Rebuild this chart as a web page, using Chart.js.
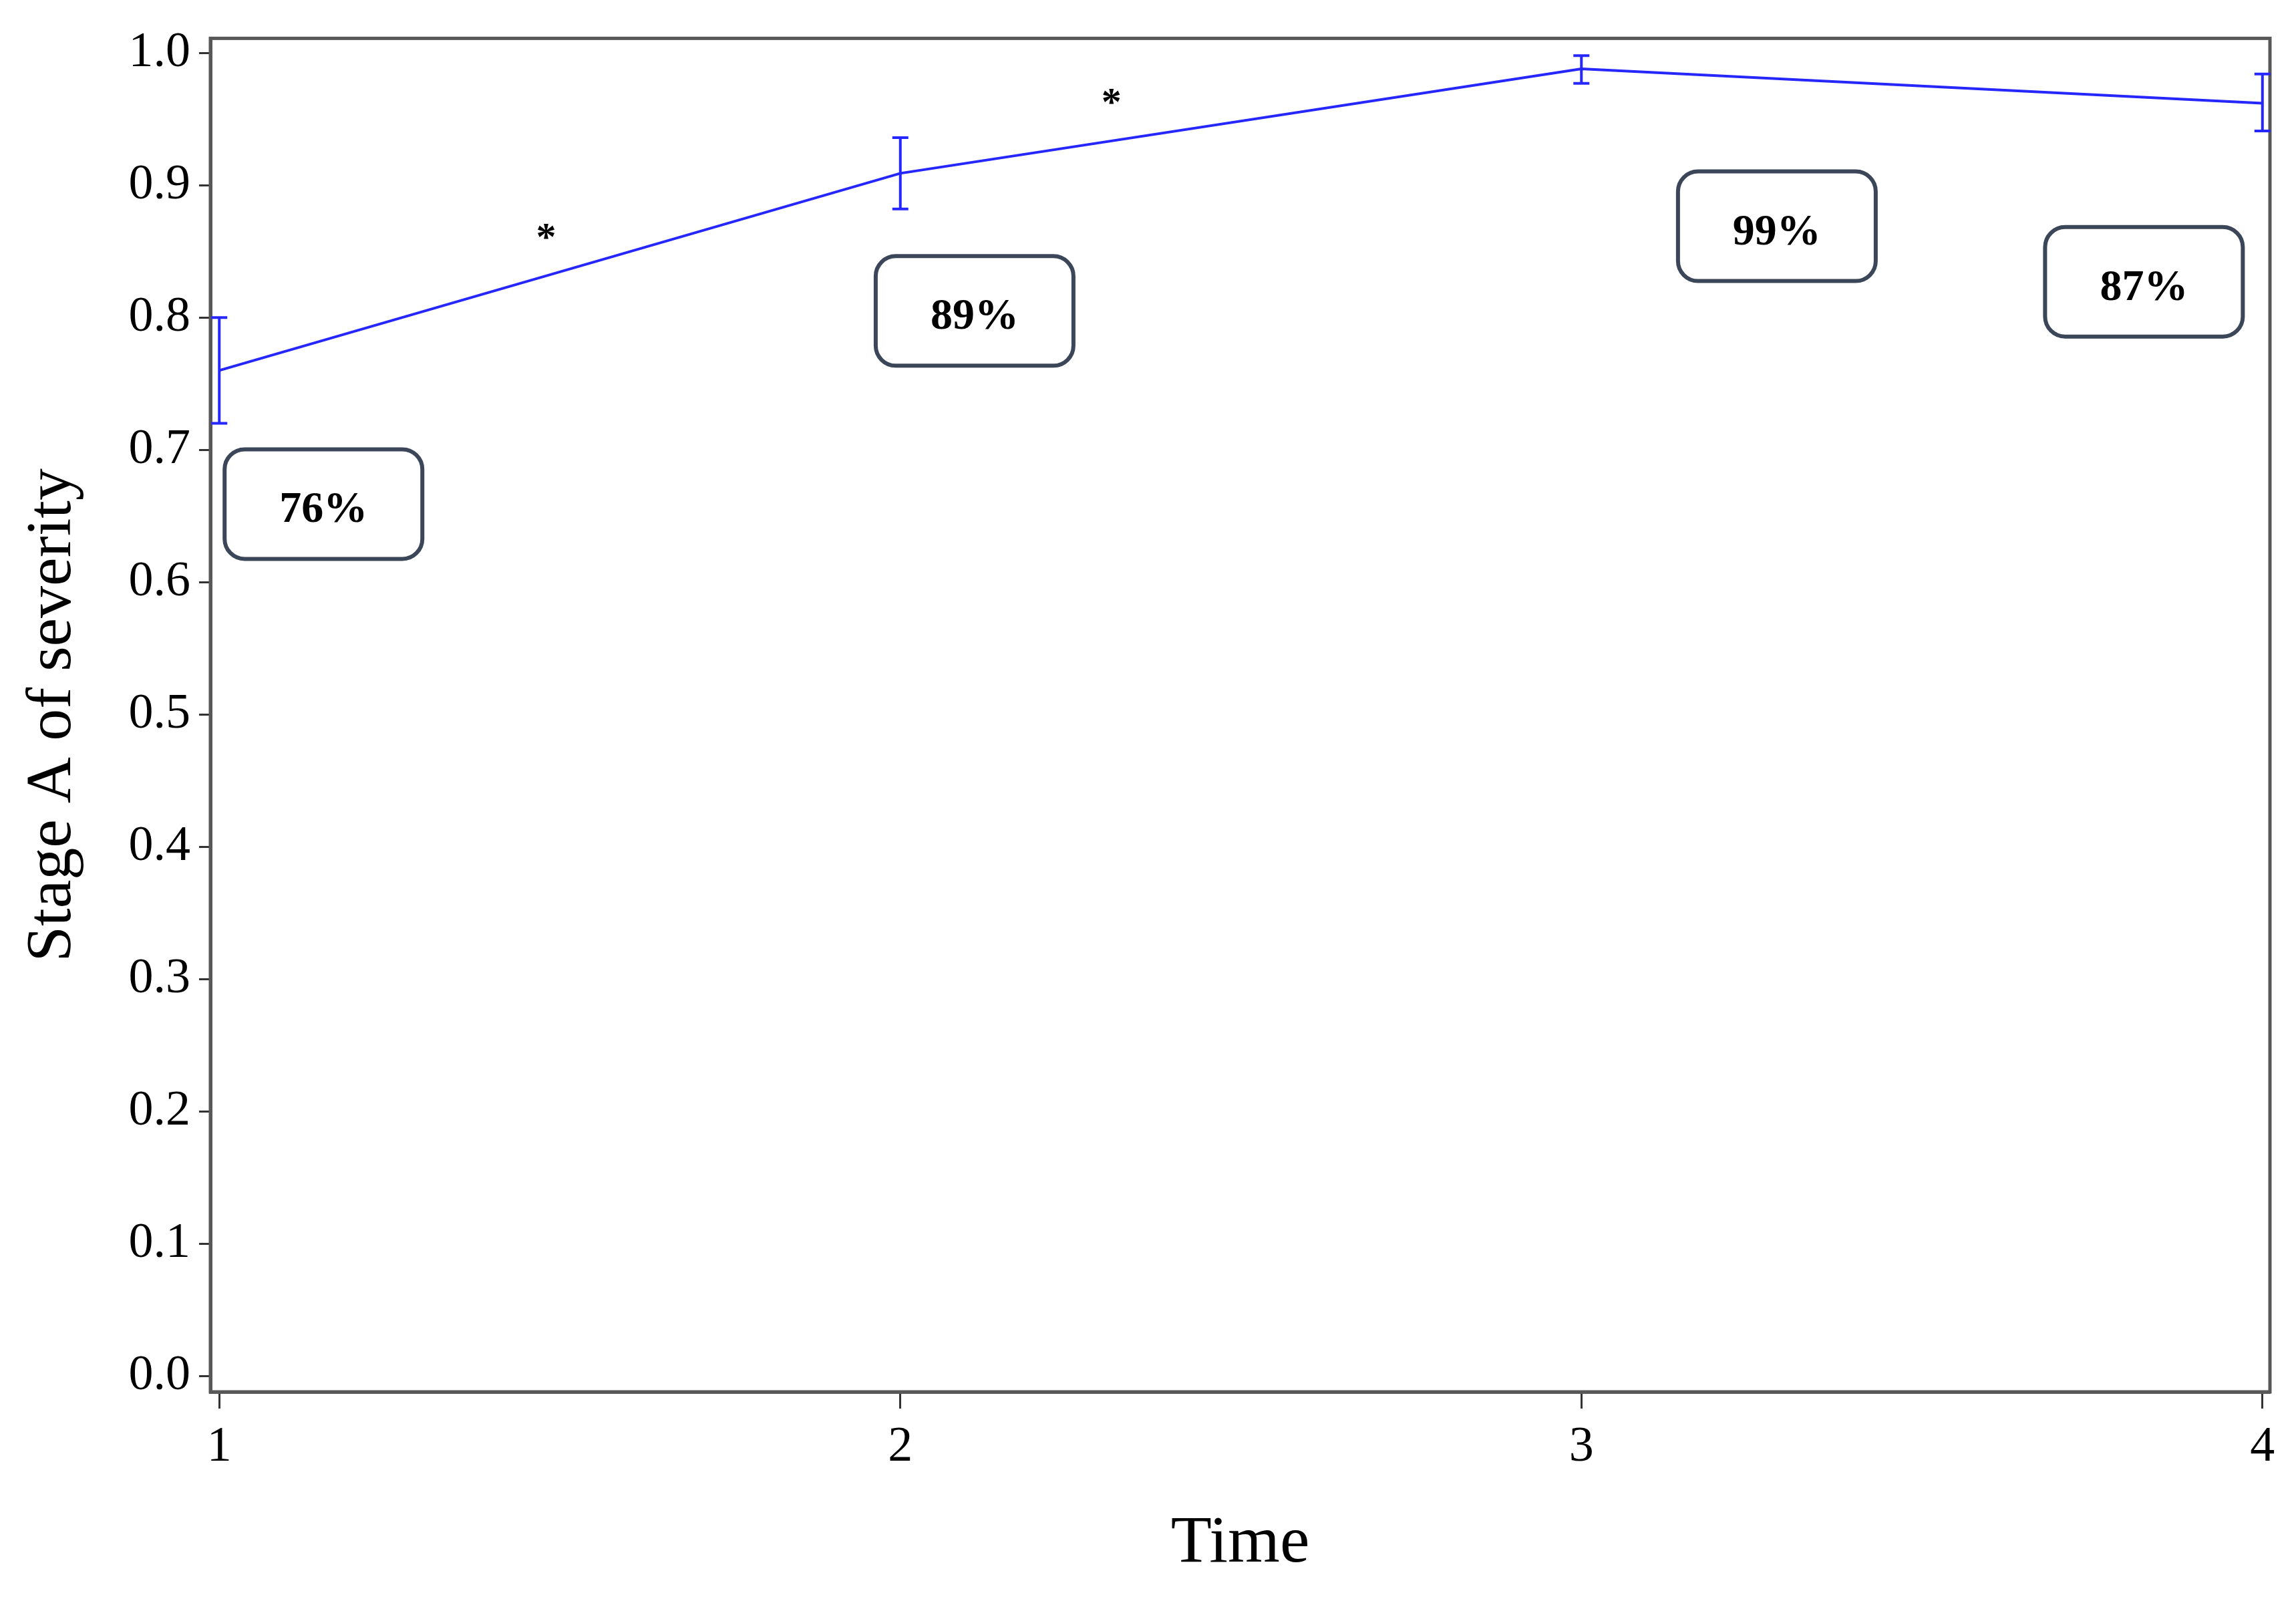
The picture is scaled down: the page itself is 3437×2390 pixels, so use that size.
<!DOCTYPE html>
<html>
<head>
<meta charset="utf-8">
<script src="https://cdn.jsdelivr.net/npm/chart.js@4/dist/chart.umd.min.js"></script>
<style>
  body { margin: 0; background: #fff; }
  canvas { display: block; }
</style>
</head>
<body>
<canvas id="chart" width="3437" height="2390"></canvas>
<script>
"use strict";

// данные графика
const times = [1, 2, 3, 4];
const means = [0.76, 0.909, 0.988, 0.962];
const lower = [0.72, 0.882, 0.977, 0.941];
const upper = [0.8, 0.936, 0.998, 0.984];

// подписи в рамках
const boxTexts = ["76%", "89%", "99%", "87%"];
const boxX = [1.153, 2.109, 3.287, 3.826];
const boxY = [0.659, 0.805, 0.869, 0.827];

// звездочки
const starX = [1.48, 2.31];
const starY = [0.865, 0.967];

const xTicks = [1, 2, 3, 4];
const yTicks = [0.0, 0.1, 0.2, 0.3, 0.4, 0.5, 0.6, 0.7, 0.8, 0.9, 1.0];

const serif = "'Liberation Serif', 'Times New Roman', serif";
const blue = "rgb(38, 38, 255)";
const axisColor = "#585858";

// рамка, усы и подписи
const extras = {
  id: "extras",
  afterDatasetsDraw(chart) {
    const { ctx, chartArea, scales } = chart;
    const x = scales.x;
    const y = scales.y;
    ctx.save();

    // рамка вокруг области графика
    ctx.strokeStyle = axisColor;
    ctx.lineWidth = 5;
    ctx.strokeRect(chartArea.left, chartArea.top, chartArea.right - chartArea.left, chartArea.bottom - chartArea.top);

    // усы ошибок
    ctx.strokeStyle = blue;
    ctx.lineWidth = 4;
    times.forEach((t, i) => {
      const px = x.getPixelForValue(t);
      const lo = y.getPixelForValue(lower[i]);
      const hi = y.getPixelForValue(upper[i]);
      ctx.beginPath();
      ctx.moveTo(px, lo);
      ctx.lineTo(px, hi);
      ctx.moveTo(px - 12, lo);
      ctx.lineTo(px + 12, lo);
      ctx.moveTo(px - 12, hi);
      ctx.lineTo(px + 12, hi);
      ctx.stroke();
    });

    // подписи в рамках
    boxTexts.forEach((text, i) => {
      const cx = x.getPixelForValue(boxX[i]);
      const cy = y.getPixelForValue(boxY[i]);
      const w = 296;
      const h = 164;
      ctx.beginPath();
      ctx.roundRect(cx - w / 2, cy - h / 2, w, h, 30);
      ctx.fillStyle = "#fff";
      ctx.fill();
      ctx.strokeStyle = "#3b4658";
      ctx.lineWidth = 6;
      ctx.stroke();
      ctx.fillStyle = "#000";
      ctx.font = "bold 66px " + serif;
      ctx.textAlign = "center";
      ctx.textBaseline = "middle";
      ctx.fillText(text, cx, cy + 10);
    });

    // звездочки
    ctx.font = "bold 60px " + serif;
    ctx.fillStyle = "#000";
    ctx.textAlign = "center";
    ctx.textBaseline = "middle";
    starX.forEach((sx, i) => {
      ctx.fillText("*", x.getPixelForValue(sx), y.getPixelForValue(starY[i]) + 12);
    });

    ctx.restore();
  },
};

new Chart(document.getElementById("chart"), {
  type: "line",
  data: {
    datasets: [
      {
        data: times.map((t, i) => ({ x: t, y: means[i] })),
        borderColor: blue,
        borderWidth: 4,
        pointRadius: 0,
        tension: 0,
        fill: false,
      },
    ],
  },
  options: {
    responsive: false,
    animation: false,
    devicePixelRatio: 1,
    layout: { padding: { top: 57, right: 39, left: 0, bottom: 0 } },
    plugins: {
      legend: { display: false },
      tooltip: { enabled: false },
    },
    scales: {
      x: {
        type: "linear",
        min: 0.987,
        max: 4.011,
        afterBuildTicks: (axis) => {
          axis.ticks = xTicks.map((v) => ({ value: v }));
        },
        afterFit: (axis) => {
          axis.height = 307;
        },
        ticks: {
          autoSkip: false,
          maxRotation: 0,
          color: "#000",
          padding: 14,
          font: { family: serif, size: 74 },
          callback: (v) => String(v),
        },
        grid: {
          drawOnChartArea: false,
          drawTicks: true,
          tickLength: 25,
          tickWidth: 3,
          tickColor: "#333",
        },
        border: { display: true, color: axisColor, width: 5 },
        title: {
          display: true,
          text: "Time",
          color: "#000",
          font: { family: serif, size: 100 },
          padding: { top: 0, bottom: 19 },
        },
      },
      y: {
        type: "linear",
        min: -0.012,
        max: 1.011,
        afterBuildTicks: (axis) => {
          axis.ticks = yTicks.map((v) => ({ value: v }));
        },
        afterFit: (axis) => {
          axis.width = 315;
        },
        ticks: {
          autoSkip: false,
          color: "#000",
          padding: 13,
          font: { family: serif, size: 74 },
          callback: (v) => Number(v).toFixed(1),
        },
        grid: {
          drawOnChartArea: false,
          drawTicks: true,
          tickLength: 17,
          tickWidth: 3,
          tickColor: "#333",
        },
        border: { display: true, color: axisColor, width: 5 },
        title: {
          display: true,
          text: "Stage A of severity",
          color: "#000",
          font: { family: serif, size: 96 },
          padding: { top: 22, bottom: 0 },
        },
      },
    },
  },
  plugins: [extras],
});
</script>
</body>
</html>
